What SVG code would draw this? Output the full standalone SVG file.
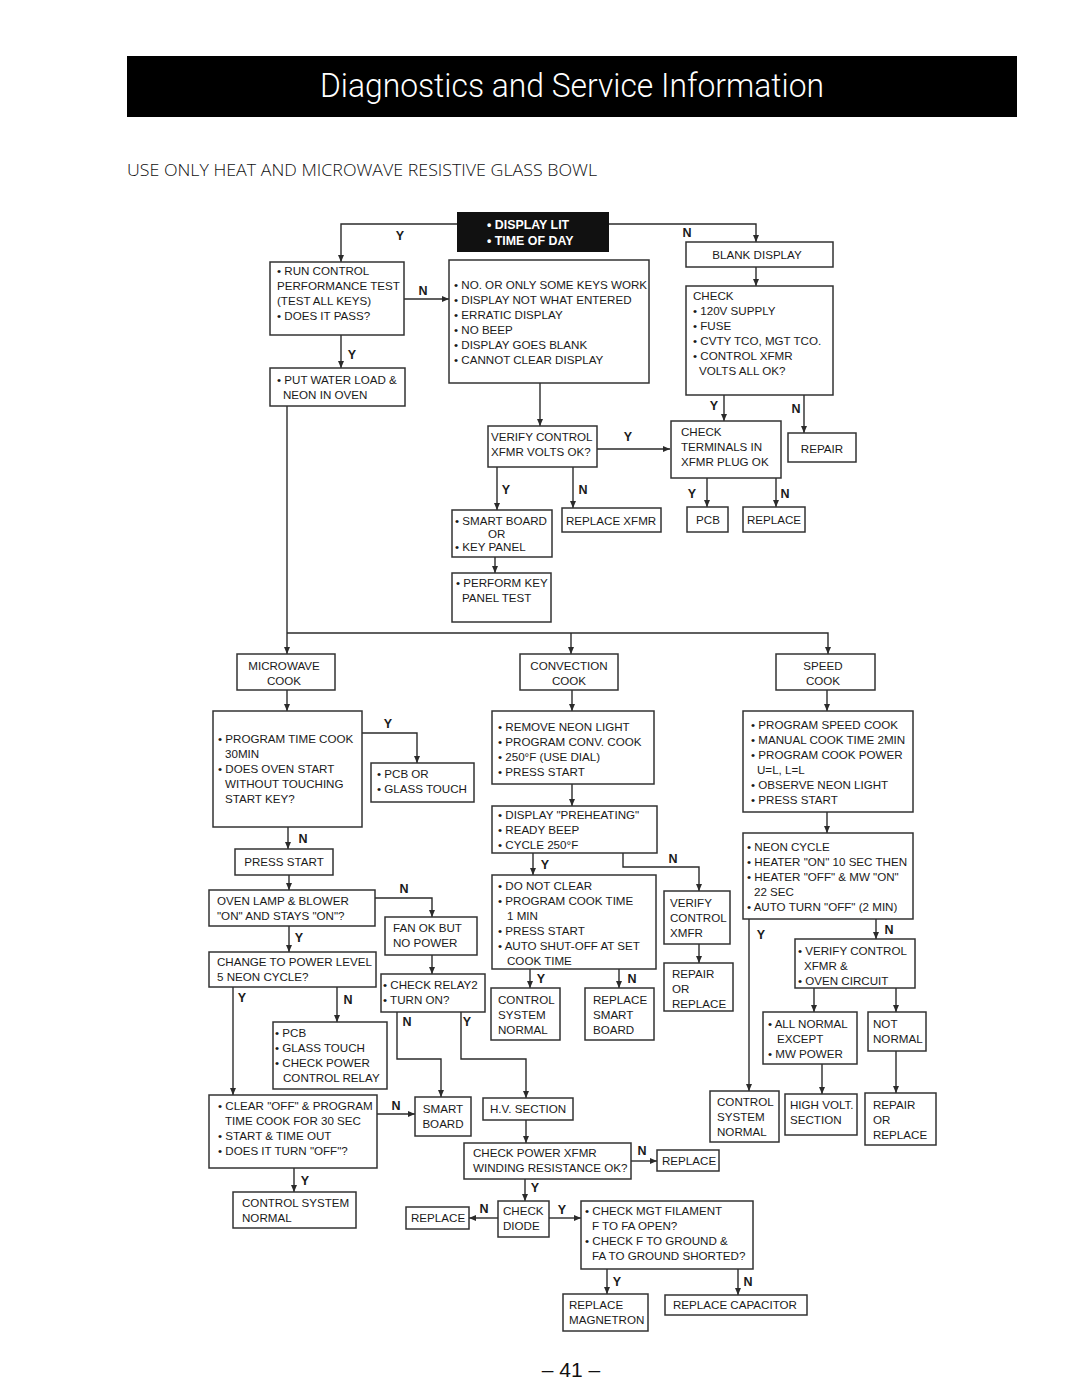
<svg xmlns="http://www.w3.org/2000/svg" width="1080" height="1397" viewBox="0 0 1080 1397">
<style>
.b{fill:#fff;stroke:#333;stroke-width:1.5}
.t{font-family:"Liberation Sans",Arial,sans-serif;font-size:11.6px;fill:#1a1a1a}
.m{text-anchor:middle}
.l{font-family:"Liberation Sans",Arial,sans-serif;font-size:12.5px;font-weight:bold;fill:#1a1a1a;text-anchor:middle}
.c{fill:none;stroke:#2b2b2b;stroke-width:1.4;marker-end:url(#ah)}
</style>
<defs>
<marker id="ah" markerUnits="userSpaceOnUse" markerWidth="8" markerHeight="7" refX="7" refY="3" orient="auto"><path d="M0,0 L7,3 L0,6 z" fill="#2b2b2b"/></marker>
</defs>
<rect width="1080" height="1397" fill="#fff"/>
<g id="header">
<rect x="127" y="56" width="890" height="61" fill="#000"/>
<text x="320" y="97" font-family="Roboto,'Liberation Sans',sans-serif" font-size="34" font-weight="300" fill="#fff" textLength="504" lengthAdjust="spacingAndGlyphs">Diagnostics and Service Information</text>
<text x="127" y="176" font-family="'Open Sans','Liberation Sans',sans-serif" font-size="17" font-weight="300" fill="#111" textLength="470" lengthAdjust="spacingAndGlyphs">USE ONLY HEAT AND MICROWAVE RESISTIVE GLASS BOWL</text>
</g>
<g id="connectors">
<path class="c" d="M457,224 H341 V262"/>
<path class="c" d="M609,224 H756 V242"/>
<path class="c" d="M404,299 H449"/>
<path class="c" d="M341,335 V368"/>
<path class="c" d="M287,406 V654"/>
<path class="c" d="M287,633 H828 V654"/>
<path class="c" d="M571,633 V654"/>
<path class="c" d="M540,383 V426"/>
<path class="c" d="M597,449 H670"/>
<path class="c" d="M756,267 V286"/>
<path class="c" d="M724,395 V421"/>
<path class="c" d="M804,395 V433"/>
<path class="c" d="M707,478 V507"/>
<path class="c" d="M776,478 V507"/>
<path class="c" d="M497,467 V510"/>
<path class="c" d="M573,467 V508"/>
<path class="c" d="M495,557 V573"/>
<path class="c" d="M287,690 V711"/>
<path class="c" d="M362,733 H417 V763"/>
<path class="c" d="M288,827 V849"/>
<path class="c" d="M289,875 V890"/>
<path class="c" d="M375,898 H432 V917"/>
<path class="c" d="M432,955 V974"/>
<path class="c" d="M289,926 V952"/>
<path class="c" d="M233,987 V1095"/>
<path class="c" d="M337,987 V1022"/>
<path class="c" d="M377,1114 H415"/>
<path class="c" d="M294,1168 V1192"/>
<path class="c" d="M397,1012 V1059 H441 V1097"/>
<path class="c" d="M461,1012 V1059 H526 V1098"/>
<path class="c" d="M526,1120 V1143"/>
<path class="c" d="M631,1161 H657"/>
<path class="c" d="M525,1179 V1201"/>
<path class="c" d="M498,1218 H469"/>
<path class="c" d="M549,1218 H581"/>
<path class="c" d="M607,1269 V1294"/>
<path class="c" d="M738,1269 V1295"/>
<path class="c" d="M572,690 V711"/>
<path class="c" d="M572,784 V806"/>
<path class="c" d="M533,853 V875"/>
<path class="c" d="M623,853 V867 H699 V891"/>
<path class="c" d="M699,944 V963"/>
<path class="c" d="M530,969 V988"/>
<path class="c" d="M619,969 V988"/>
<path class="c" d="M827,690 V711"/>
<path class="c" d="M827,812 V833"/>
<path class="c" d="M749,919 V1091"/>
<path class="c" d="M876,919 V939"/>
<path class="c" d="M814,988 V1012"/>
<path class="c" d="M896,988 V1012"/>
<path class="c" d="M822,1064 V1094"/>
<path class="c" d="M896,1051 V1093"/>
<g id="labels">
<text class="l" x="400" y="240">Y</text>
<text class="l" x="687" y="237">N</text>
<text class="l" x="423" y="295">N</text>
<text class="l" x="352" y="359">Y</text>
<text class="l" x="628" y="441">Y</text>
<text class="l" x="714" y="410">Y</text>
<text class="l" x="796" y="413">N</text>
<text class="l" x="692" y="498">Y</text>
<text class="l" x="785" y="498">N</text>
<text class="l" x="506" y="494">Y</text>
<text class="l" x="583" y="494">N</text>
<text class="l" x="388" y="728">Y</text>
<text class="l" x="303" y="843">N</text>
<text class="l" x="404" y="893">N</text>
<text class="l" x="299" y="942">Y</text>
<text class="l" x="242" y="1002">Y</text>
<text class="l" x="348" y="1004">N</text>
<text class="l" x="396" y="1110">N</text>
<text class="l" x="305" y="1185">Y</text>
<text class="l" x="407" y="1026">N</text>
<text class="l" x="467" y="1026">Y</text>
<text class="l" x="642" y="1155">N</text>
<text class="l" x="535" y="1192">Y</text>
<text class="l" x="484" y="1213">N</text>
<text class="l" x="562" y="1214">Y</text>
<text class="l" x="617" y="1286">Y</text>
<text class="l" x="748" y="1286">N</text>
<text class="l" x="545" y="869">Y</text>
<text class="l" x="673" y="863">N</text>
<text class="l" x="541" y="983">Y</text>
<text class="l" x="632" y="983">N</text>
<text class="l" x="761" y="939">Y</text>
<text class="l" x="889" y="934">N</text>
</g>
</g>
<g id="display-lit">
<rect x="457" y="212" width="152" height="40" fill="#111"/>
<text x="487" y="229" font-family="'Liberation Sans',Arial,sans-serif" font-size="12.4" font-weight="bold" fill="#fff">• DISPLAY LIT</text>
<text x="487" y="245" font-family="'Liberation Sans',Arial,sans-serif" font-size="12.4" font-weight="bold" fill="#fff">• TIME OF DAY</text>
</g>
<g id="run-control">
<rect class="b" x="270" y="262" width="134" height="73"/>
<text class="t" x="277" y="275">• RUN CONTROL</text>
<text class="t" x="277" y="290">PERFORMANCE TEST</text>
<text class="t" x="277" y="305">(TEST ALL KEYS)</text>
<text class="t" x="277" y="320">• DOES IT PASS?</text>
</g>
<g id="keys">
<rect class="b" x="449" y="260" width="200" height="123"/>
<text class="t" x="454" y="289">• NO. OR ONLY SOME KEYS WORK</text>
<text class="t" x="454" y="304">• DISPLAY NOT WHAT ENTERED</text>
<text class="t" x="454" y="319">• ERRATIC DISPLAY</text>
<text class="t" x="454" y="334">• NO BEEP</text>
<text class="t" x="454" y="349">• DISPLAY GOES BLANK</text>
<text class="t" x="454" y="364">• CANNOT CLEAR DISPLAY</text>
</g>
<g id="put-water">
<rect class="b" x="270" y="368" width="135" height="38"/>
<text class="t" x="277" y="384">• PUT WATER LOAD &amp;</text>
<text class="t" x="283" y="399">NEON IN OVEN</text>
</g>
<g id="blank-display">
<rect class="b" x="686" y="242" width="147" height="25"/>
<text class="t m" x="757" y="259">BLANK DISPLAY</text>
</g>
<g id="check-supply">
<rect class="b" x="686" y="286" width="147" height="109"/>
<text class="t" x="693" y="300">CHECK</text>
<text class="t" x="693" y="315">• 120V SUPPLY</text>
<text class="t" x="693" y="330">• FUSE</text>
<text class="t" x="693" y="345">• CVTY TCO, MGT TCO.</text>
<text class="t" x="693" y="360">• CONTROL XFMR</text>
<text class="t" x="699" y="375">VOLTS ALL OK?</text>
</g>
<g id="check-terminals">
<rect class="b" x="671" y="421" width="110" height="57"/>
<text class="t" x="681" y="436">CHECK</text>
<text class="t" x="681" y="451">TERMINALS IN</text>
<text class="t" x="681" y="466">XFMR PLUG OK</text>
</g>
<g id="repair-top">
<rect class="b" x="788" y="433" width="68" height="29"/>
<text class="t m" x="822" y="453">REPAIR</text>
</g>
<g id="pcb-top">
<rect class="b" x="687" y="507" width="41" height="25"/>
<text class="t m" x="708" y="524">PCB</text>
</g>
<g id="replace-top">
<rect class="b" x="743" y="507" width="62" height="25"/>
<text class="t m" x="774" y="524">REPLACE</text>
</g>
<g id="verify-control">
<rect class="b" x="488" y="426" width="109" height="41"/>
<text class="t" x="491" y="441">VERIFY CONTROL</text>
<text class="t" x="491" y="456">XFMR VOLTS OK?</text>
</g>
<g id="smart-board-key">
<rect class="b" x="452" y="510" width="100" height="47"/>
<text class="t" x="455" y="525">• SMART BOARD</text>
<text class="t" x="488" y="538">OR</text>
<text class="t" x="455" y="551">• KEY PANEL</text>
</g>
<g id="replace-xfmr">
<rect class="b" x="562" y="508" width="99" height="24"/>
<text class="t" x="566" y="525">REPLACE XFMR</text>
</g>
<g id="perform-key">
<rect class="b" x="452" y="573" width="99" height="49"/>
<text class="t" x="456" y="587">• PERFORM KEY</text>
<text class="t" x="462" y="602">PANEL TEST</text>
</g>
<g id="microwave-cook">
<rect class="b" x="237" y="654" width="98" height="36"/>
<text class="t m" x="284" y="670">MICROWAVE</text>
<text class="t m" x="284" y="685">COOK</text>
</g>
<g id="program-time">
<rect class="b" x="213" y="711" width="149" height="116"/>
<text class="t" x="218" y="743">• PROGRAM TIME COOK</text>
<text class="t" x="225" y="758">30MIN</text>
<text class="t" x="218" y="773">• DOES OVEN START</text>
<text class="t" x="225" y="788">WITHOUT TOUCHING</text>
<text class="t" x="225" y="803">START KEY?</text>
</g>
<g id="pcb-or">
<rect class="b" x="371" y="763" width="103" height="39"/>
<text class="t" x="377" y="778">• PCB OR</text>
<text class="t" x="377" y="793">• GLASS TOUCH</text>
</g>
<g id="press-start">
<rect class="b" x="235" y="849" width="98" height="26"/>
<text class="t m" x="284" y="866">PRESS START</text>
</g>
<g id="oven-lamp">
<rect class="b" x="209" y="890" width="166" height="36"/>
<text class="t" x="217" y="905">OVEN LAMP &amp; BLOWER</text>
<text class="t" x="217" y="920">"ON" AND STAYS "ON"?</text>
</g>
<g id="fan-ok">
<rect class="b" x="385" y="917" width="92" height="38"/>
<text class="t" x="393" y="932">FAN OK BUT</text>
<text class="t" x="393" y="947">NO POWER</text>
</g>
<g id="change-power">
<rect class="b" x="209" y="952" width="167" height="35"/>
<text class="t" x="217" y="966">CHANGE TO POWER LEVEL</text>
<text class="t" x="217" y="981">5 NEON CYCLE?</text>
</g>
<g id="check-relay2">
<rect class="b" x="381" y="974" width="104" height="38"/>
<text class="t" x="383" y="989">• CHECK RELAY2</text>
<text class="t" x="383" y="1004">• TURN ON?</text>
</g>
<g id="pcb-glass">
<rect class="b" x="273" y="1022" width="114" height="67"/>
<text class="t" x="275" y="1037">• PCB</text>
<text class="t" x="275" y="1052">• GLASS TOUCH</text>
<text class="t" x="275" y="1067">• CHECK POWER</text>
<text class="t" x="283" y="1082">CONTROL RELAY</text>
</g>
<g id="clear-off">
<rect class="b" x="209" y="1095" width="168" height="73"/>
<text class="t" x="218" y="1110">• CLEAR "OFF" &amp; PROGRAM</text>
<text class="t" x="225" y="1125">TIME COOK FOR 30 SEC</text>
<text class="t" x="218" y="1140">• START &amp; TIME OUT</text>
<text class="t" x="218" y="1155">• DOES IT  TURN "OFF"?</text>
</g>
<g id="smart-board-low">
<rect class="b" x="415" y="1097" width="56" height="39"/>
<text class="t m" x="443" y="1113">SMART</text>
<text class="t m" x="443" y="1128">BOARD</text>
</g>
<g id="control-normal-left">
<rect class="b" x="233" y="1192" width="123" height="36"/>
<text class="t" x="242" y="1207">CONTROL SYSTEM</text>
<text class="t" x="242" y="1222">NORMAL</text>
</g>
<g id="hv-section">
<rect class="b" x="483" y="1098" width="90" height="22"/>
<text class="t" x="490" y="1113">H.V. SECTION</text>
</g>
<g id="check-power-xfmr">
<rect class="b" x="464" y="1143" width="167" height="36"/>
<text class="t" x="473" y="1157">CHECK POWER XFMR</text>
<text class="t" x="473" y="1172">WINDING RESISTANCE OK?</text>
</g>
<g id="replace-right">
<rect class="b" x="657" y="1150" width="62" height="21"/>
<text class="t" x="662" y="1165">REPLACE</text>
</g>
<g id="check-diode">
<rect class="b" x="498" y="1201" width="51" height="36"/>
<text class="t" x="503" y="1215">CHECK</text>
<text class="t" x="503" y="1230">DIODE</text>
</g>
<g id="replace-left">
<rect class="b" x="406" y="1207" width="63" height="22"/>
<text class="t" x="411" y="1222">REPLACE</text>
</g>
<g id="check-mgt">
<rect class="b" x="581" y="1201" width="172" height="68"/>
<text class="t" x="585" y="1215">• CHECK MGT FILAMENT</text>
<text class="t" x="592" y="1230">F TO FA OPEN?</text>
<text class="t" x="585" y="1245">• CHECK F TO GROUND &amp;</text>
<text class="t" x="592" y="1260">FA TO GROUND SHORTED?</text>
</g>
<g id="replace-magnetron">
<rect class="b" x="563" y="1294" width="85" height="37"/>
<text class="t" x="569" y="1309">REPLACE</text>
<text class="t" x="569" y="1324">MAGNETRON</text>
</g>
<g id="replace-capacitor">
<rect class="b" x="665" y="1295" width="142" height="20"/>
<text class="t" x="673" y="1309">REPLACE CAPACITOR</text>
</g>
<g id="convection-cook">
<rect class="b" x="520" y="654" width="98" height="36"/>
<text class="t m" x="569" y="670">CONVECTION</text>
<text class="t m" x="569" y="685">COOK</text>
</g>
<g id="remove-neon">
<rect class="b" x="492" y="711" width="162" height="73"/>
<text class="t" x="498" y="731">• REMOVE NEON LIGHT</text>
<text class="t" x="498" y="746">• PROGRAM CONV. COOK</text>
<text class="t" x="498" y="761">• 250°F (USE DIAL)</text>
<text class="t" x="498" y="776">• PRESS START</text>
</g>
<g id="display-preheating">
<rect class="b" x="492" y="806" width="165" height="47"/>
<text class="t" x="498" y="819">• DISPLAY "PREHEATING"</text>
<text class="t" x="498" y="834">• READY BEEP</text>
<text class="t" x="498" y="849">• CYCLE 250°F</text>
</g>
<g id="do-not-clear">
<rect class="b" x="492" y="875" width="164" height="94"/>
<text class="t" x="498" y="890">• DO NOT CLEAR</text>
<text class="t" x="498" y="905">• PROGRAM COOK TIME</text>
<text class="t" x="507" y="920">1 MIN</text>
<text class="t" x="498" y="935">• PRESS START</text>
<text class="t" x="498" y="950">• AUTO SHUT-OFF AT SET</text>
<text class="t" x="507" y="965">COOK TIME</text>
</g>
<g id="verify-xmfr">
<rect class="b" x="664" y="891" width="66" height="53"/>
<text class="t" x="670" y="907">VERIFY</text>
<text class="t" x="670" y="922">CONTROL</text>
<text class="t" x="670" y="937">XMFR</text>
</g>
<g id="repair-replace-mid">
<rect class="b" x="664" y="963" width="69" height="48"/>
<text class="t" x="672" y="978">REPAIR</text>
<text class="t" x="672" y="993">OR</text>
<text class="t" x="672" y="1008">REPLACE</text>
</g>
<g id="control-normal-mid">
<rect class="b" x="491" y="988" width="69" height="52"/>
<text class="t" x="498" y="1004">CONTROL</text>
<text class="t" x="498" y="1019">SYSTEM</text>
<text class="t" x="498" y="1034">NORMAL</text>
</g>
<g id="replace-smart">
<rect class="b" x="585" y="988" width="69" height="52"/>
<text class="t" x="593" y="1004">REPLACE</text>
<text class="t" x="593" y="1019">SMART</text>
<text class="t" x="593" y="1034">BOARD</text>
</g>
<g id="speed-cook">
<rect class="b" x="776" y="654" width="99" height="36"/>
<text class="t m" x="823" y="670">SPEED</text>
<text class="t m" x="823" y="685">COOK</text>
</g>
<g id="program-speed">
<rect class="b" x="743" y="711" width="170" height="101"/>
<text class="t" x="751" y="729">• PROGRAM SPEED COOK</text>
<text class="t" x="751" y="744">• MANUAL COOK TIME 2MIN</text>
<text class="t" x="751" y="759">• PROGRAM COOK POWER</text>
<text class="t" x="757" y="774">U=L, L=L</text>
<text class="t" x="751" y="789">• OBSERVE NEON LIGHT</text>
<text class="t" x="751" y="804">• PRESS START</text>
</g>
<g id="neon-cycle">
<rect class="b" x="743" y="833" width="170" height="86"/>
<text class="t" x="747" y="851">• NEON CYCLE</text>
<text class="t" x="747" y="866">• HEATER "ON" 10 SEC THEN</text>
<text class="t" x="747" y="881">• HEATER "OFF" &amp; MW "ON"</text>
<text class="t" x="754" y="896">22 SEC</text>
<text class="t" x="747" y="911">• AUTO TURN "OFF" (2 MIN)</text>
</g>
<g id="verify-oven">
<rect class="b" x="795" y="939" width="120" height="49"/>
<text class="t" x="798" y="955">• VERIFY CONTROL</text>
<text class="t" x="804" y="970">XFMR &amp;</text>
<text class="t" x="798" y="985">• OVEN CIRCUIT</text>
</g>
<g id="all-normal">
<rect class="b" x="763" y="1012" width="94" height="52"/>
<text class="t" x="768" y="1028">• ALL NORMAL</text>
<text class="t" x="777" y="1043">EXCEPT</text>
<text class="t" x="768" y="1058">• MW POWER</text>
</g>
<g id="not-normal">
<rect class="b" x="868" y="1012" width="58" height="39"/>
<text class="t" x="873" y="1028">NOT</text>
<text class="t" x="873" y="1043">NORMAL</text>
</g>
<g id="control-normal-right">
<rect class="b" x="710" y="1091" width="69" height="51"/>
<text class="t" x="717" y="1106">CONTROL</text>
<text class="t" x="717" y="1121">SYSTEM</text>
<text class="t" x="717" y="1136">NORMAL</text>
</g>
<g id="high-volt">
<rect class="b" x="785" y="1094" width="72" height="41"/>
<text class="t" x="790" y="1109">HIGH VOLT.</text>
<text class="t" x="790" y="1124">SECTION</text>
</g>
<g id="repair-replace-right">
<rect class="b" x="865" y="1093" width="71" height="52"/>
<text class="t" x="873" y="1109">REPAIR</text>
<text class="t" x="873" y="1124">OR</text>
<text class="t" x="873" y="1139">REPLACE</text>
</g>
<g id="page-number">
<text x="571" y="1377" font-family="'Liberation Sans',Arial,sans-serif" font-size="21" fill="#111" text-anchor="middle">– 41 –</text>
</g>
</svg>
